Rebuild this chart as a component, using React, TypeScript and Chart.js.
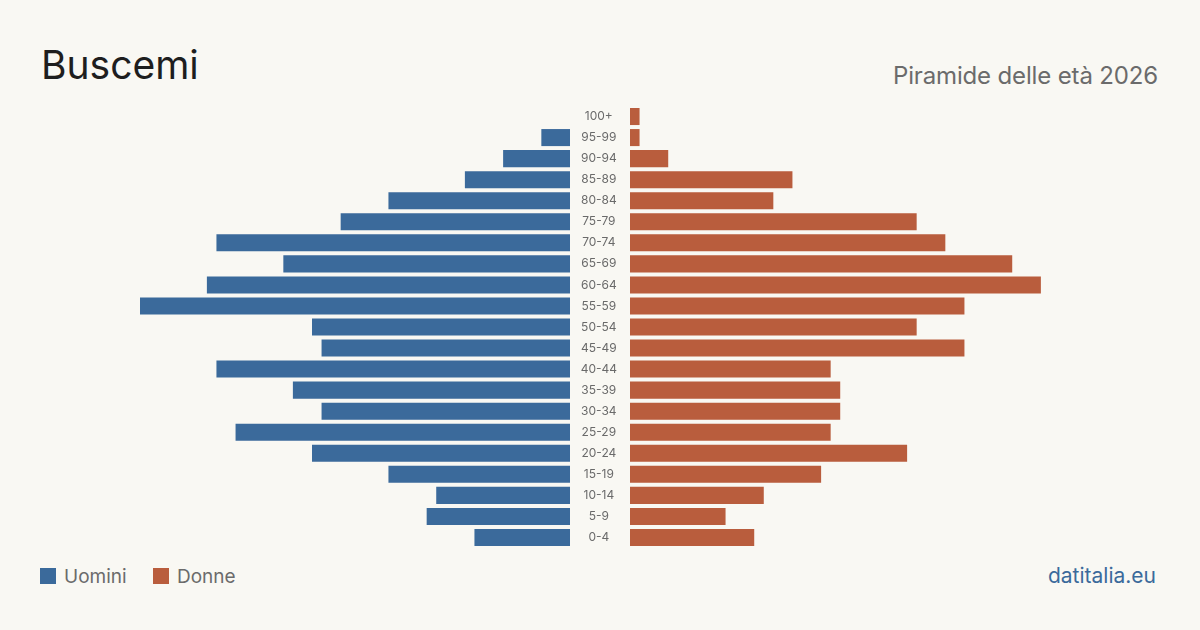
import React, { useEffect, useRef } from "react";
import { Chart, registerables } from "chart.js";

Chart.register(...registerables);

const ageGroups = ["100+", "95-99", "90-94", "85-89", "80-84", "75-79", "70-74", "65-69", "60-64", "55-59", "50-54", "45-49", "40-44", "35-39", "30-34", "25-29", "20-24", "15-19", "10-14", "5-9", "0-4"];
const maleValues = [0, 3, 7, 11, 19, 24, 37, 30, 38, 45, 27, 26, 37, 29, 26, 35, 27, 19, 14, 15, 10];
const femaleValues = [1, 1, 4, 17, 15, 30, 33, 40, 43, 35, 30, 35, 21, 22, 22, 21, 29, 20, 14, 10, 13];
const scaleMax = 45;

const BLUE = "#3b6a9b";
const ORANGE = "#b95d3d";
const BG = "#f9f8f3";
const FONT = "Inter, 'Noto Sans', sans-serif";

export default function App() {
  const leftRef = useRef<HTMLCanvasElement | null>(null);
  const rightRef = useRef<HTMLCanvasElement | null>(null);

  useEffect(() => {
    document.body.style.margin = "0";
    document.body.style.background = BG;
    const left = new Chart(leftRef.current!, {
      type: "bar",
      data: {
        labels: ageGroups,
        datasets: [{ label: "Uomini", data: maleValues, backgroundColor: BLUE, barPercentage: 1, categoryPercentage: 0.81 }],
      },
      options: {
        indexAxis: "y",
        animation: false,
        responsive: false,
        maintainAspectRatio: false,
        layout: { padding: 0 },
        plugins: { legend: { display: false }, tooltip: { enabled: false } },
        scales: {
          x: { display: false, reverse: true, min: 0, max: scaleMax },
          y: { display: false },
        },
      },
    });
    const right = new Chart(rightRef.current!, {
      type: "bar",
      data: {
        labels: ageGroups,
        datasets: [{ label: "Donne", data: femaleValues, backgroundColor: ORANGE, barPercentage: 1, categoryPercentage: 0.81 }],
      },
      options: {
        indexAxis: "y",
        animation: false,
        responsive: false,
        maintainAspectRatio: false,
        layout: { padding: 0 },
        plugins: { legend: { display: false }, tooltip: { enabled: false } },
        scales: {
          x: { display: false, min: 0, max: scaleMax },
          y: {
            display: true,
            grid: { display: false, drawTicks: false },
            border: { display: false },
            ticks: {
              crossAlign: "center",
              padding: 13,
              color: "#6a6a6a",
              font: { family: FONT, size: 12 },
            },
            afterFit: (scale: any) => {
              scale.width = 60;
              scale.paddingTop = 0;
              scale.paddingBottom = 0;
            },
          },
        },
      },
    });
    return () => {
      left.destroy();
      right.destroy();
    };
  }, []);

  const text = (extra: React.CSSProperties): React.CSSProperties => ({
    position: "absolute",
    fontFamily: FONT,
    whiteSpace: "nowrap",
    ...extra,
  });

  return (
    <div style={{ position: "fixed", left: 0, top: 0, width: 1200, height: 630, background: BG, overflow: "hidden" }}>
      <div style={text({ left: 41, top: 45, fontSize: 39, lineHeight: "39px", color: "#1e1e1e" })}>Buscemi</div>
      <div style={text({ right: 42, top: 64, fontSize: 24, lineHeight: "24px", color: "#6b6b6b", letterSpacing: "-0.15px" })}>Piramide delle età 2026</div>
      <canvas ref={leftRef} width={430} height={442} style={{ position: "absolute", left: 140, top: 106, width: 430, height: 442 }} />
      <canvas ref={rightRef} width={490} height={442} style={{ position: "absolute", left: 570, top: 106, width: 490, height: 442 }} />
      <div style={{ position: "absolute", left: 40, top: 568, width: 16, height: 16, background: BLUE }} />
      <div style={text({ left: 64, top: 567, fontSize: 19, lineHeight: "19px", color: "#6b6b6b" })}>Uomini</div>
      <div style={{ position: "absolute", left: 153, top: 568, width: 16, height: 16, background: ORANGE }} />
      <div style={text({ left: 177, top: 567, fontSize: 19, lineHeight: "19px", color: "#6b6b6b" })}>Donne</div>
      <div style={text({ right: 44, top: 565, fontSize: 21, lineHeight: "21px", color: BLUE })}>datitalia.eu</div>
    </div>
  );
}
